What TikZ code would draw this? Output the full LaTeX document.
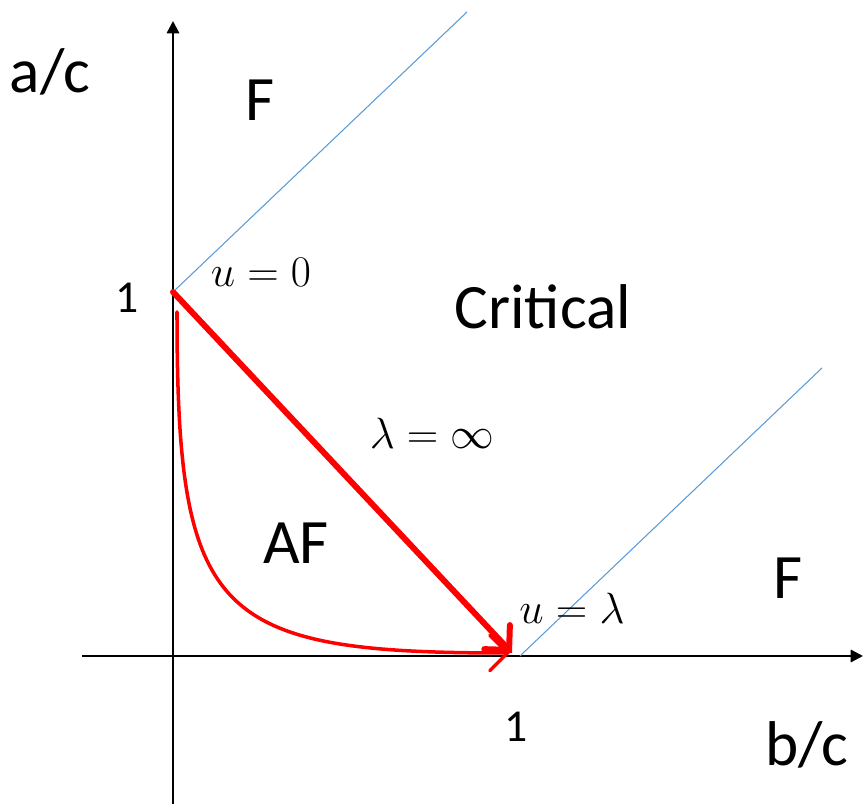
\documentclass[tikz,border=0pt]{standalone}
\usepackage{fontspec}
\setmainfont{Carlito}
\usepackage{xcolor}
\usepackage{tikz}
\usetikzlibrary{arrows.meta,calc,positioning}

\definecolor{lineblue}{HTML}{5B9BD5}
\tikzset{
  axis/.style={line width=1.3pt,-{Triangle[length=7pt,width=7pt]}},
  flow/.style={red,line cap=round,-{Straight Barb[length=10pt,width=20pt,line cap=round]}},
  bigtxt/.style={font=\fontsize{36}{40}\selectfont},
  ticktxt/.style={font=\fontsize{26}{30}\selectfont},
  mathtxt/.style={font=\fontsize{28.5}{32}\selectfont}
}

\begin{document}
\begin{tikzpicture}[x=0.02cm,y=0.02cm]
  \useasboundingbox (-173,-148) rectangle (690,656);
  \coordinate (O) at (0,0);
  \coordinate (A) at (0,364); \coordinate (B) at (339,3); \coordinate (C) at (337,3);
  \coordinate (S) at (4,344); \coordinate (P) at (347,0);
  \coordinate (xl) at (-91,0); \coordinate (xr) at (690,0);
  \coordinate (yb) at (0,-148); \coordinate (yt) at (0,635);
  % axes
  \draw[axis] (xl) -- (xr);
  \draw[axis] (yb) -- (yt);
  % phase boundaries
  \draw[lineblue,line width=0.6pt] (A) -- ++(294,280);
  \draw[lineblue,line width=0.6pt] (P) -- ++(302,288);
  % flows
  \draw[flow,line width=2pt] (S) .. controls (4,40) and (40,3) .. (C);
  \draw[flow,line width=3.4pt] (A) -- (B);
  % labels
  \node[bigtxt] (ac) at (-123,584) {a/c};
  \node[bigtxt] (bc) at (634,-89) {b/c};
  \node[ticktxt] (one1) at (-46,358) {1};
  \node[ticktxt] (one2) at (343,-71) {1};
  \node[bigtxt] (F1) at (87,556) {F};
  \node[bigtxt] (F2) at (615,78) {F};
  \node[bigtxt] (crit) at (370,349) {Critical};
  \node[bigtxt] (AF) at (123,113) {AF};
  \node[mathtxt] (u0) at (88,384) {$u=0$};
  \node[mathtxt] (linf) at (259,223) {$\lambda=\infty$};
  \node[mathtxt] (ul) at (399,48) {$u=\lambda$};
\end{tikzpicture}
\end{document}
